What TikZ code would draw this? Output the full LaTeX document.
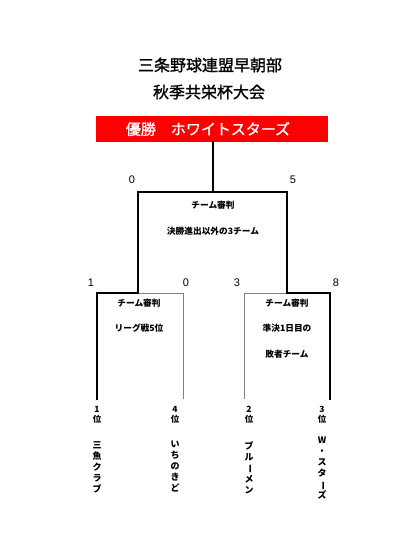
\documentclass[tikz,border=0pt]{standalone}
\usepackage{graphicx}
\usepackage{fontspec}
\setmainfont{Liberation Sans}
\newfontfamily\jp{Noto Sans CJK JP}
\newfontfamily\jpt[FakeBold=1.2]{Noto Sans CJK JP}
\newcommand{\vbar}{\rotatebox[origin=c]{-90}{ー}}
\begin{document}
\begin{tikzpicture}[x=1pt,y=-1pt,
  win/.style={line width=2.2pt,line cap=rect},
  lose/.style={line width=0.9pt,draw=black!50},
  semi/.style={line width=1.4pt},
  score/.style={font=\fontsize{11}{13}\selectfont},
  small/.style={font=\jp\bfseries\fontsize{8.7}{10}\selectfont},
  rank/.style={font=\jp\bfseries\fontsize{8.5}{10}\selectfont,align=center,inner sep=0pt},
  vname/.style={font=\jp\bfseries\fontsize{9}{11}\selectfont,align=center,inner sep=0pt,anchor=north},
  title/.style={font=\jpt\fontsize{16}{18}\selectfont}]
\useasboundingbox (0,0) rectangle (420,538);
% titles
\node[title] (t1) at (210,65) {三条野球連盟早朝部};
\node[title] (t2) at (209,92) {秋季共栄杯大会};
% banner
\node[fill=red,minimum width=232pt,minimum height=26pt,inner sep=0pt,anchor=north west] (ban) at (96,116) {};
\node[font=\jpt\fontsize{15}{17}\selectfont,text=white] (bant) at (208,129) {優勝　ホワイトスターズ};
% bracket coordinates
\coordinate (top) at (213,142);
\coordinate (fm) at (213,192);
\coordinate (fl) at (138,192);
\coordinate (fr) at (287,192);
\coordinate (sl) at (138,293);
\coordinate (sr) at (287,293);
\coordinate (a1) at (97,293);
\coordinate (a2) at (183,293);
\coordinate (b1) at (244,293);
\coordinate (b2) at (330,293);
\coordinate (a1b) at (97,399);
\coordinate (a2b) at (183,399);
\coordinate (b1b) at (244,399);
\coordinate (b2b) at (330,399);
% lines
\draw[lose] (a2) -- (a2b);
\draw[lose] (sl) -- (a2);
\draw[lose] (b1) -- (b1b);
\draw[lose] (sr) -- (b1);
\draw[semi] (fm) -- (fl);
\draw[win] (top) -- (fm) -- (fr) -- (sr) -- (b2) -- (b2b);
\draw[win] (fl) -- (sl) -- (a1) -- (a1b);
% scores
\node[score] (s0) at (132,180) {0};
\node[score] (s5) at (293,180) {5};
\node[score] (sa) at (91,283) {1};
\node[score] (sb) at (186,283) {0};
\node[score] (sc) at (237,283) {3};
\node[score] (sd) at (336,283) {8};
% referee texts
\node[small] (r1) at (213,205) {チーム審判};
\node[small] (r2) at (213,231) {決勝進出以外の3チーム};
\node[small] (r3) at (139,303) {チーム審判};
\node[small] (r4) at (139,328) {リーグ戦5位};
\node[small] (r5) at (287,303) {チーム審判};
\node[small] (r6) at (287,328) {準決1日目の};
\node[small] (r7) at (287,354) {敗者チーム};
% ranks
\node[rank] (k1) at (97,415) {1\\位};
\node[rank] (k4) at (175,415) {4\\位};
\node[rank] (k2) at (249,415) {2\\位};
\node[rank] (k3) at (322,415) {3\\位};
% names
\node[vname] (n1) at (97,441) {三\\魚\\ク\\ラ\\ブ};
\node[vname] (n2) at (175,441) {い\\ち\\の\\き\\ど};
\node[vname] (n3) at (249,441) {ブ\\ル\\\vbar\\メ\\ン};
\node[vname] (n4) at (322,437) {W\\・\\ス\\タ\\\vbar\\ズ};
\end{tikzpicture}
\end{document}
